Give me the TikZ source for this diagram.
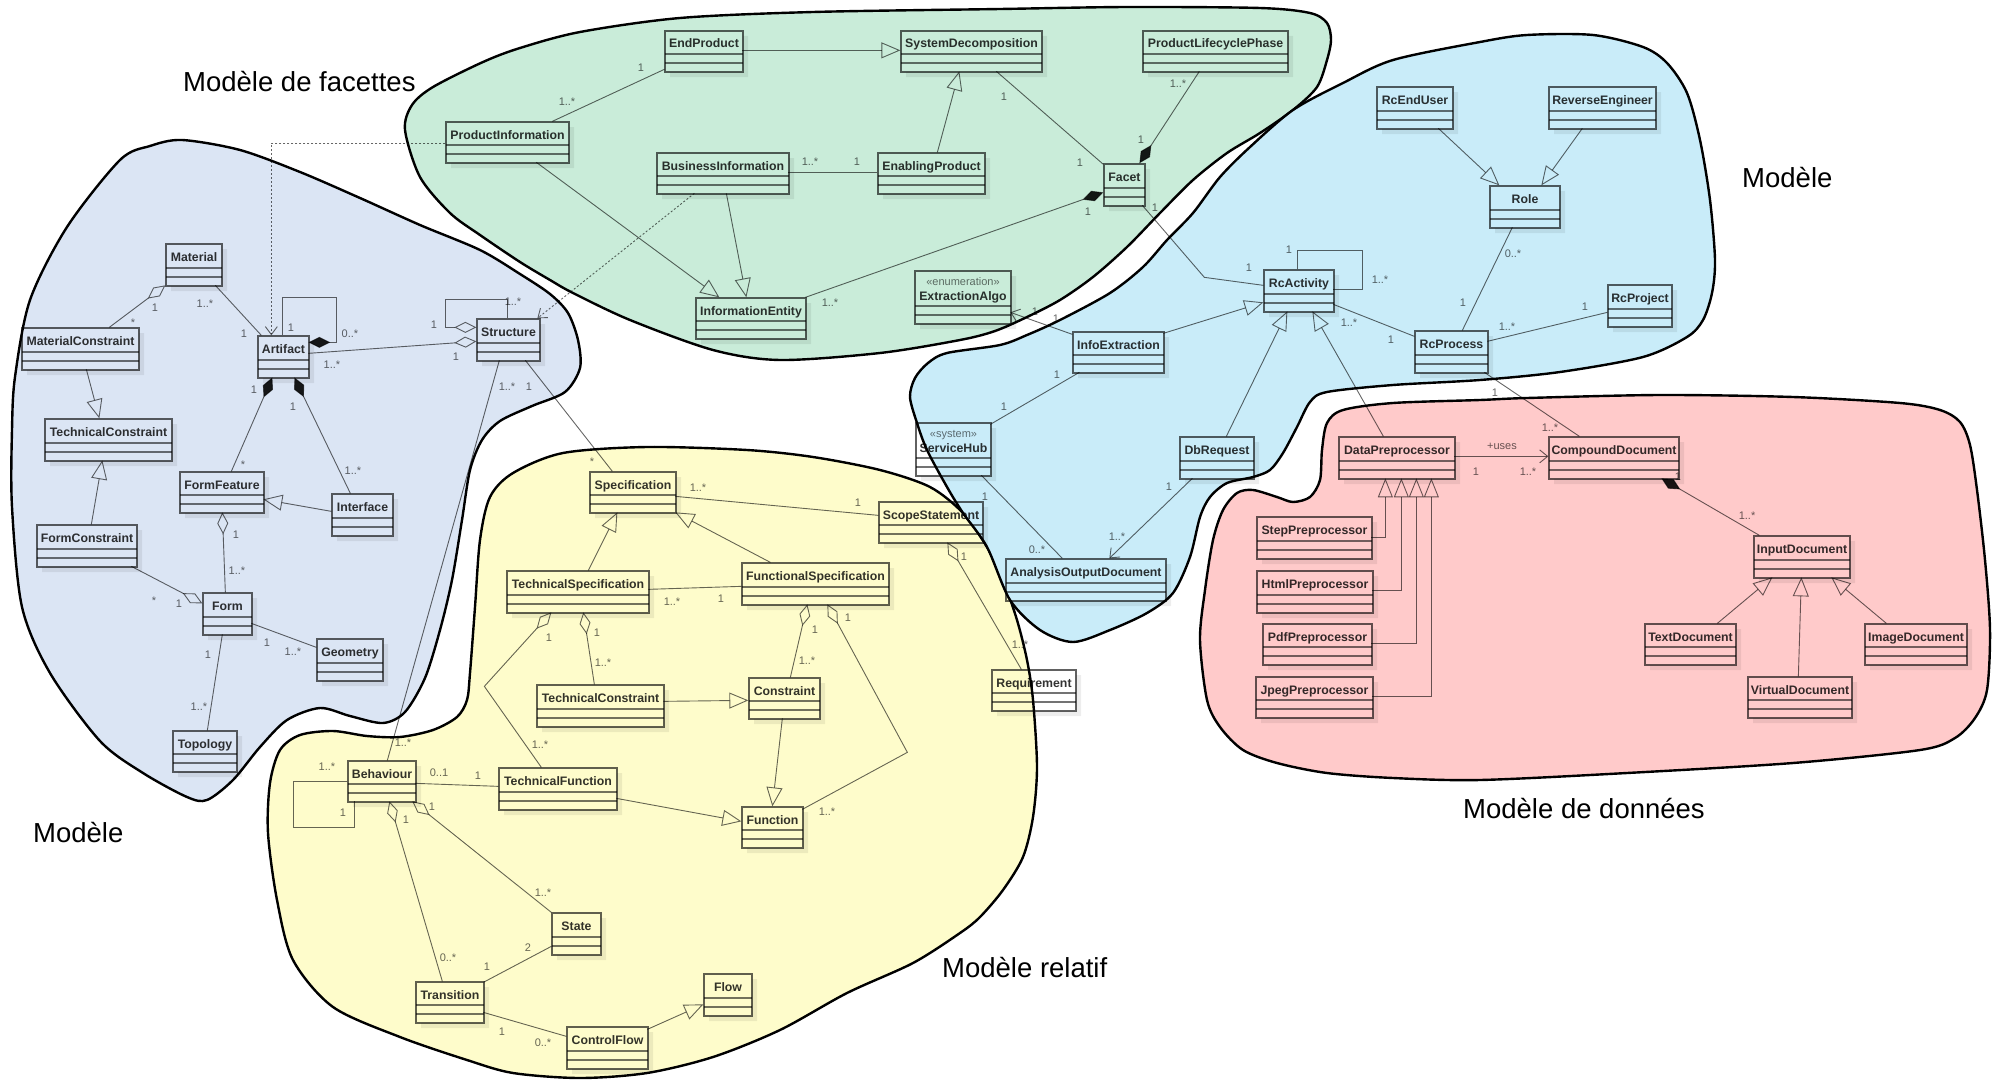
\documentclass[tikz,border=0pt]{standalone}
\usepackage{fontspec}
\setmainfont{Liberation Sans}
\usetikzlibrary{arrows.meta,fit}
\definecolor{regB}{RGB}{219,229,244}
\definecolor{regG}{RGB}{201,236,217}
\definecolor{regC}{RGB}{201,236,249}
\definecolor{regY}{RGB}{254,252,203}
\definecolor{regR}{RGB}{255,202,202}
\tikzset{
  regionline/.style={draw=black,line width=2.4pt},
  boxst/.style={draw=black,draw opacity=0.62,line width=1.3pt,inner sep=0pt},
  compst/.style={draw=black,draw opacity=0.55,line width=1.1pt},
  shadowst/.style={fill=black,fill opacity=0.07},
  namest/.style={font=\bfseries\fontsize{12.3}{14}\selectfont,text=black,text opacity=0.8,inner sep=0pt},
  stereost/.style={font=\fontsize{11}{12}\selectfont,text=black,text opacity=0.55,inner sep=0pt},
  mult/.style={font=\fontsize{11}{12}\selectfont,text=black,text opacity=0.6,inner sep=0pt},
  rlabel/.style={font=\fontsize{27.5}{30}\selectfont,text=black,inner sep=0pt,anchor=base west},
  assoc/.style={draw=black,draw opacity=0.6,fill opacity=0.6,line width=0.9pt},
  gen/.style={assoc,-{Triangle[open,length=19pt,width=16pt]}},
  genn/.style={assoc,-{Triangle[open,length=19pt,width=15pt]}},
  agg/.style={assoc,{Diamond[open,length=22pt,width=11pt]}-},
  comp/.style={assoc,fill opacity=0.9,{Diamond[length=22pt,width=11pt]}-},
  nav/.style={assoc,-{Straight Barb[length=8pt,width=13pt]}},
  dep/.style={assoc,dash pattern=on 2pt off 2pt,-{Straight Barb[length=8pt,width=12pt]}},
}
% class box: name, x1, y1, x2, y2, text
\newcommand{\cls}[6]{%
  \fill[shadowst] (#4,#3+5) -- (#4+5,#3+5) -- (#4+5,#5+5) -- (#2+5,#5+5) -- (#2+5,#5) -- (#4,#5) -- cycle;
  \node[boxst,fit={(#2,#3) (#4,#5)}] (#1) {};
  \draw[compst] (#2,#5-18) -- (#4,#5-18) (#2,#5-9) -- (#4,#5-9);
  \node[namest,anchor=base] at ({(#2+#4)/2},#3+17) {#6};
}
% class box with stereotype: name, x1, y1, x2, y2, stereotype, text
\newcommand{\clss}[7]{%
  \fill[shadowst] (#4,#3+5) -- (#4+5,#3+5) -- (#4+5,#5+5) -- (#2+5,#5+5) -- (#2+5,#5) -- (#4,#5) -- cycle;
  \node[boxst,fit={(#2,#3) (#4,#5)}] (#1) {};
  \draw[compst] (#2,#5-18) -- (#4,#5-18) (#2,#5-9) -- (#4,#5-9);
  \node[stereost,anchor=base] at ({(#2+#4)/2},#3+14) {#6};
  \node[namest,anchor=base] at ({(#2+#4)/2},#3+29) {#7};
}
\newcommand{\ml}[3]{\node[mult] at (#1,#2) {#3};}
\begin{document}
\begin{tikzpicture}[x=1pt,y=-1pt]
\useasboundingbox (0,0) rectangle (1999,1081);
\fill[white] (0,0) rectangle (1999,1081);

% ---------- regions ----------
\filldraw[fill=regB,regionline] plot[smooth cycle] coordinates {
(182,140) (240,150) (300,172) (360,198) (420,225) (480,250) (520,274) (550,294) (568,313) (578,340) (580,368) (565,392) (532,406) (500,421) (482,440) (470,470) (462,520) (452,580) (440,630) (425,678) (405,712) (383,723) (350,716) (320,708) (287,720) (260,747) (233,780) (207,800) (187,797) (143,773) (100,741) (50,673) (22,607) (12,507) (12,430) (15,377) (30,300) (67,227) (120,160) (150,146)};
\filldraw[fill=regG,regionline] plot[smooth cycle] coordinates {
(405,130) (412,105) (433,87) (483,62) (520,48) (580,32) (680,18) (813,12) (1000,9) (1127,7) (1260,8) (1310,13) (1327,23) (1331,40) (1327,60) (1317,87) (1293,110) (1260,133) (1227,153) (1193,180) (1160,213) (1127,247) (1093,277) (1060,300) (1027,317) (995,331) (960,340) (880,353) (780,360) (713,350) (630,320) (573,293) (550,280) (520,262) (480,235) (450,213) (420,177)};
\filldraw[fill=regY,regionline] plot[smooth cycle] coordinates {
(280,750) (300,735) (333,731) (367,736) (400,737) (433,730) (457,717) (467,700) (470,673) (475,607) (480,540) (490,497) (513,473) (563,453) (647,447) (747,450) (813,457) (880,470) (930,487) (963,513) (987,547) (1003,580) (1017,620) (1027,660) (1033,700) (1037,767) (1033,817) (1023,857) (1003,890) (980,917) (960,933) (913,963) (847,993) (780,1030) (713,1057) (647,1073) (580,1078) (513,1073) (467,1060) (400,1037) (333,1007) (293,960) (277,900) (268,833) (270,783)};
\filldraw[fill=regC,regionline] plot[smooth cycle] coordinates {
(928,363) (947,353) (1000,345) (1027,335) (1060,320) (1110,293) (1143,267) (1167,240) (1193,213) (1220,177) (1250,147) (1293,110) (1343,83) (1393,60) (1480,42) (1527,35) (1593,35) (1643,47) (1667,63) (1687,93) (1700,140) (1710,200) (1715,260) (1712,293) (1703,320) (1687,337) (1643,357) (1560,372) (1480,380) (1393,385) (1327,392) (1310,402) (1297,427) (1283,453) (1270,470) (1253,477) (1227,483) (1210,497) (1200,517) (1190,557) (1173,593) (1147,613) (1110,630) (1073,642) (1040,630) (1010,600) (987,547) (963,513) (947,487) (927,450) (917,423) (910,397) (915,378)};
\filldraw[fill=regR,regionline] plot[smooth cycle] coordinates {
(1322,450) (1327,423) (1343,410) (1393,403) (1480,400) (1527,398) (1660,395) (1793,397) (1900,403) (1940,410) (1960,422) (1970,445) (1977,490) (1985,560) (1990,630) (1987,690) (1975,718) (1955,738) (1920,750) (1793,763) (1627,773) (1480,780) (1393,778) (1327,773) (1277,763) (1243,750) (1220,727) (1207,700) (1200,640) (1205,590) (1213,540) (1223,510) (1237,493) (1253,490) (1277,497) (1293,502) (1310,497) (1320,480)};

% ---------- region labels ----------
\node[rlabel] (lbF) at (183,91) {Modèle de facettes};
\node[rlabel] (lbM1) at (1742,187) {Modèle};
\node[rlabel] (lbM2) at (33,842) {Modèle};
\node[rlabel] (lbR) at (942,977) {Modèle relatif};
\node[rlabel] (lbD) at (1463,818) {Modèle de données};

% ---------- classes: blue left ----------
\cls{Mat}{166}{244}{222}{286}{Material}
\cls{MatC}{22}{328}{139}{370}{MaterialConstraint}
\cls{Art}{258}{336}{309}{378}{Artifact}
\cls{Str}{477}{319}{540}{361}{Structure}
\cls{TCb}{45}{419}{172}{461}{TechnicalConstraint}
\cls{FC}{37}{525}{137}{567}{FormConstraint}
\cls{FF}{180}{472}{264}{513}{FormFeature}
\cls{Itf}{332}{494}{393}{536}{Interface}
\cls{Frm}{203}{593}{252}{635}{Form}
\cls{Geo}{317}{639}{383}{681}{Geometry}
\cls{Top}{173}{731}{237}{772}{Topology}
% ---------- green ----------
\cls{PI}{446}{122}{569}{163}{ProductInformation}
\cls{EP}{665}{31}{743}{72}{EndProduct}
\cls{SD}{901}{31}{1042}{72}{SystemDecomposition}
\cls{BI}{657}{153}{789}{194}{BusinessInformation}
\cls{EnP}{878}{153}{985}{194}{EnablingProduct}
\cls{IE}{696}{298}{806}{339}{InformationEntity}
\clss{EA}{915}{271}{1011}{324}{«enumeration»}{ExtractionAlgo}
\cls{Fac}{1104}{164}{1145}{206}{Facet}
\cls{PLP}{1143}{31}{1288}{72}{ProductLifecyclePhase}
% ---------- blue right ----------
\cls{REU}{1377}{87}{1453}{129}{RcEndUser}
\cls{RE}{1549}{87}{1656}{129}{ReverseEngineer}
\cls{Role}{1490}{186}{1560}{228}{Role}
\cls{RcA}{1264}{270}{1334}{312}{RcActivity}
\cls{IEx}{1073}{332}{1164}{373}{InfoExtraction}
\cls{RcP}{1415}{331}{1488}{373}{RcProcess}
\cls{RcPj}{1608}{285}{1672}{327}{RcProject}
\clss{SH}{916}{423}{991}{476}{«system»}{ServiceHub}
\cls{DbR}{1180}{437}{1254}{479}{DbRequest}
\cls{AOD}{1006}{559}{1166}{601}{AnalysisOutputDocument}
% ---------- red ----------
\cls{DP}{1339}{437}{1455}{479}{DataPreprocessor}
\cls{SP}{1257}{517}{1372}{559}{StepPreprocessor}
\cls{HP}{1257}{571}{1373}{613}{HtmlPreprocessor}
\cls{PP}{1263}{624}{1372}{665}{PdfPreprocessor}
\cls{JP}{1256}{677}{1373}{718}{JpegPreprocessor}
\cls{CD}{1549}{437}{1679}{479}{CompoundDocument}
\cls{ID}{1754}{536}{1850}{578}{InputDocument}
\cls{TD}{1645}{624}{1736}{665}{TextDocument}
\cls{VD}{1748}{677}{1852}{718}{VirtualDocument}
\cls{ImD}{1865}{624}{1967}{665}{ImageDocument}
% ---------- yellow ----------
\cls{Spec}{590}{472}{676}{513}{Specification}
\cls{SS}{879}{502}{983}{543}{ScopeStatement}
\cls{TS}{507}{571}{649}{613}{TechnicalSpecification}
\cls{FS}{742}{563}{889}{605}{FunctionalSpecification}
\cls{TCy}{537}{685}{664}{727}{TechnicalConstraint}
\cls{Con}{749}{678}{820}{719}{Constraint}
\cls{Req}{992}{670}{1076}{711}{Requirement}
\cls{Beh}{348}{761}{416}{802}{Behaviour}
\cls{TF}{499}{768}{617}{810}{TechnicalFunction}
\cls{Fun}{742}{807}{803}{848}{Function}
\cls{Sta}{552}{913}{601}{955}{State}
\cls{Tra}{416}{982}{484}{1023}{Transition}
\cls{CF}{567}{1027}{648}{1069}{ControlFlow}
\cls{Flo}{704}{974}{752}{1016}{Flow}

% ---------- connectors: blue left ----------
\draw[assoc] ([shift={(50,42)}]Mat.north west) -- ([shift={(4,0)}]Art.north west);
\draw[agg] ([shift={(0,42)}]Mat.north west) -- ([shift={(88,0)}]MatC.north west);
\draw[dep] ([shift={(0,22)}]PI.north west) -| ([shift={(14,0)}]Art.north west);
\draw[comp] ([shift={(51,7)}]Art.north west) -- ++(28,0) -- ++(0,-45) -| ([shift={(25,0)}]Art.north west);
\draw[agg] ([shift={(0,23)}]Str.north west) -- ([shift={(51,18)}]Art.north west);
\draw[agg] ([shift={(0,9)}]Str.north west) -- ++(-31,0) -- ++(0,-28) -| ([shift={(31,0)}]Str.north west);
\draw[comp] ([shift={(15,42)}]Art.north west) -- ([shift={(52,0)}]FF.north west);
\draw[comp] ([shift={(37,42)}]Art.north west) -- ([shift={(19,0)}]Itf.north west);
\draw[gen] ([shift={(65,42)}]MatC.north west) -- ([shift={(55,0)}]TCb.north west);
\draw[gen] ([shift={(55,0)}]FC.north west) -- ([shift={(58,42)}]TCb.north west);
\draw[gen] ([shift={(0,18)}]Itf.north west) -- ([shift={(84,28)}]FF.north west);
\draw[agg] ([shift={(43,41)}]FF.north west) -- ([shift={(23,0)}]Frm.north west);
\draw[agg] ([shift={(0,11)}]Frm.north west) -- ([shift={(95,42)}]FC.north west);
\draw[assoc] ([shift={(49,31)}]Frm.north west) -- ([shift={(0,9)}]Geo.north west);
\draw[assoc] ([shift={(20,42)}]Frm.north west) -- ([shift={(35,0)}]Top.north west);
\draw[assoc] ([shift={(23,42)}]Str.north west) -- ([shift={(40,0)}]Beh.north west);
\draw[assoc] ([shift={(49,42)}]Str.north west) -- ([shift={(23,0)}]Spec.north west);
\draw[dep] ([shift={(38,41)}]BI.north west) -- ([shift={(61,0)}]Str.north west);
% ---------- green ----------
\draw[gen] ([shift={(78,20)}]EP.north west) -- ([shift={(0,20)}]SD.north west);
\draw[assoc] ([shift={(107,0)}]PI.north west) -- ([shift={(0,39)}]EP.north west);
\draw[assoc] ([shift={(132,20)}]BI.north west) -- ([shift={(0,20)}]EnP.north west);
\draw[gen] ([shift={(60,0)}]EnP.north west) -- ([shift={(59,41)}]SD.north west);
\draw[gen] ([shift={(91,41)}]PI.north west) -- ([shift={(24,0)}]IE.north west);
\draw[gen] ([shift={(70,41)}]BI.north west) -- ([shift={(51,0)}]IE.north west);
\draw[comp] ([shift={(0,29)}]Fac.north west) -- ([shift={(110,0)}]IE.north west);
\draw[assoc] ([shift={(96,41)}]SD.north west) -- ([shift={(0,1)}]Fac.north west);
\draw[comp] ([shift={(36,0)}]Fac.north west) -- ([shift={(57,41)}]PLP.north west);
\draw[assoc] ([shift={(39,42)}]Fac.north west) -- ++(62,72) -- ([shift={(0,16)}]RcA.north west);
% ---------- blue right ----------
\draw[assoc] ([shift={(34,0)}]RcA.north west) -- ++(0,-19) -- ++(65,0) |- ([shift={(70,20)}]RcA.north west);
\draw[gen] ([shift={(91,2)}]IEx.north west) -- ([shift={(0,33)}]RcA.north west);
\draw[nav] ([shift={(0,3)}]IEx.north west) -- ([shift={(96,42)}]EA.north west);
\draw[assoc] ([shift={(70,35)}]RcA.north west) -- ([shift={(0,6)}]RcP.north west);
\draw[gen] ([shift={(62,42)}]REU.north west) -- ([shift={(10,0)}]Role.north west);
\draw[gen] ([shift={(34,42)}]RE.north west) -- ([shift={(52,0)}]Role.north west);
\draw[assoc] ([shift={(23,42)}]Role.north west) -- ([shift={(48,0)}]RcP.north west);
\draw[assoc] ([shift={(73,11)}]RcP.north west) -- ([shift={(0,28)}]RcPj.north west);
\draw[assoc] ([shift={(70,42)}]RcP.north west) -- ([shift={(31,0)}]CD.north west);
\draw[assoc] ([shift={(7,41)}]IEx.north west) -- ([shift={(75,2)}]SH.north west);
\draw[gen] ([shift={(47,0)}]DbR.north west) -- ([shift={(24,42)}]RcA.north west);
\draw[gen] ([shift={(45,0)}]DP.north west) -- ([shift={(49,42)}]RcA.north west);
\draw[assoc] ([shift={(66,53)}]SH.north west) -- ([shift={(57,0)}]AOD.north west);
\draw[nav] ([shift={(13,42)}]DbR.north west) -- ([shift={(104,0)}]AOD.north west);
% ---------- red ----------
\draw[nav] ([shift={(116,20)}]DP.north west) -- ([shift={(0,20)}]CD.north west);
\draw[comp] ([shift={(113,42)}]CD.north west) -- ([shift={(6,0)}]ID.north west);
\draw[genn] ([shift={(115,21)}]SP.north west) -| ([shift={(47,42)}]DP.north west);
\draw[genn] ([shift={(116,20)}]HP.north west) -| ([shift={(63,42)}]DP.north west);
\draw[genn] ([shift={(109,20)}]PP.north west) -| ([shift={(78,42)}]DP.north west);
\draw[genn] ([shift={(117,20)}]JP.north west) -| ([shift={(93,42)}]DP.north west);
\draw[gen] ([shift={(73,0)}]TD.north west) -- ([shift={(19,42)}]ID.north west);
\draw[gen] ([shift={(51,0)}]VD.north west) -- ([shift={(48,42)}]ID.north west);
\draw[gen] ([shift={(22,0)}]ImD.north west) -- ([shift={(78,42)}]ID.north west);
% ---------- yellow ----------
\draw[assoc] ([shift={(86,25)}]Spec.north west) -- ([shift={(0,14)}]SS.north west);
\draw[gen] ([shift={(82,0)}]TS.north west) -- ([shift={(28,41)}]Spec.north west);
\draw[gen] ([shift={(29,0)}]FS.north west) -- ([shift={(86,41)}]Spec.north west);
\draw[assoc] ([shift={(142,19)}]TS.north west) -- ([shift={(0,24)}]FS.north west);
\draw[gen] ([shift={(127,17)}]TCy.north west) -- ([shift={(0,23)}]Con.north west);
\draw[agg] ([shift={(77,42)}]TS.north west) -- ([shift={(58,0)}]TCy.north west);
\draw[agg] ([shift={(45,42)}]TS.north west) -- ++(-67,74) -- ([shift={(43,0)}]TF.north west);
\draw[agg] ([shift={(66,42)}]FS.north west) -- ([shift={(42,0)}]Con.north west);
\draw[agg] ([shift={(86,42)}]FS.north west) -- ++(80,148) -- ([shift={(61,3)}]Fun.north west);
\draw[agg] ([shift={(69,41)}]SS.north west) -- ([shift={(30,0)}]Req.north west);
\draw[gen] ([shift={(34,41)}]Con.north west) -- ([shift={(31,0)}]Fun.north west);
\draw[gen] ([shift={(118,31)}]TF.north west) -- ([shift={(0,15)}]Fun.north west);
\draw[assoc] ([shift={(0,21)}]Beh.north west) -- ++(-54,0) -- ++(0,46) -| ([shift={(7,41)}]Beh.north west);
\draw[assoc] ([shift={(68,23)}]Beh.north west) -- ([shift={(0,19)}]TF.north west);
\draw[agg] ([shift={(42,41)}]Beh.north west) -- ([shift={(27,0)}]Tra.north west);
\draw[agg] ([shift={(65,41)}]Beh.north west) -- ([shift={(0,0)}]Sta.north west);
\draw[assoc] ([shift={(68,1)}]Tra.north west) -- ([shift={(0,34)}]Sta.north west);
\draw[assoc] ([shift={(68,31)}]Tra.north west) -- ([shift={(0,10)}]CF.north west);
\draw[gen] ([shift={(81,3)}]CF.north west) -- ([shift={(0,31)}]Flo.north west);

% ---------- multiplicities ----------
\ml{205}{304}{1..*} \ml{244}{334}{1} \ml{155}{308}{1} \ml{133}{323}{*}
\ml{291}{328}{1} \ml{350}{334}{0..*} \ml{456}{357}{1} \ml{332}{365}{1..*}
\ml{434}{325}{1} \ml{513}{302}{1..*} \ml{254}{390}{1} \ml{243}{465}{*}
\ml{293}{407}{1} \ml{353}{471}{1..*} \ml{236}{535}{1} \ml{237}{571}{1..*}
\ml{154}{601}{*} \ml{179}{604}{1} \ml{267}{643}{1} \ml{293}{652}{1..*}
\ml{208}{655}{1} \ml{199}{707}{1..*} \ml{507}{387}{1..*} \ml{529}{387}{1}
\ml{592}{462}{*} \ml{403}{743}{1..*}
\ml{567}{102}{1..*} \ml{641}{68}{1} \ml{810}{162}{1..*} \ml{857}{162}{1}
\ml{830}{303}{1..*} \ml{1088}{212}{1} \ml{1004}{97}{1} \ml{1080}{163}{1}
\ml{1178}{84}{1..*} \ml{1141}{140}{1} \ml{1155}{208}{1} \ml{1249}{268}{1}
\ml{1289}{250}{1} \ml{1380}{280}{1..*} \ml{1035}{312}{1} \ml{1056}{319}{1}
\ml{1349}{323}{1..*} \ml{1391}{340}{1} \ml{1513}{254}{0..*} \ml{1463}{303}{1}
\ml{1507}{327}{1..*} \ml{1585}{307}{1} \ml{1495}{393}{1} \ml{1550}{428}{1..*}
\ml{1057}{375}{1} \ml{1004}{407}{1} \ml{985}{497}{1} \ml{1037}{550}{0..*}
\ml{1169}{487}{1} \ml{1117}{537}{1..*}
\ml{1502}{446}{+uses} \ml{1476}{472}{1} \ml{1528}{472}{1..*} \ml{1678}{477}{1} \ml{1747}{516}{1..*}
\ml{698}{488}{1..*} \ml{858}{503}{1} \ml{672}{602}{1..*} \ml{721}{599}{1}
\ml{597}{633}{1} \ml{603}{663}{1..*} \ml{549}{638}{1} \ml{540}{745}{1..*}
\ml{815}{630}{1} \ml{807}{661}{1..*} \ml{848}{618}{1} \ml{827}{812}{1..*}
\ml{964}{557}{1} \ml{1020}{645}{1..*} \ml{327}{767}{1..*} \ml{343}{813}{1}
\ml{439}{773}{0..1} \ml{478}{776}{1} \ml{406}{820}{1} \ml{448}{958}{0..*}
\ml{432}{807}{1} \ml{543}{893}{1..*} \ml{487}{967}{1} \ml{528}{948}{2}
\ml{502}{1032}{1} \ml{543}{1043}{0..*}
\end{tikzpicture}
\end{document}
